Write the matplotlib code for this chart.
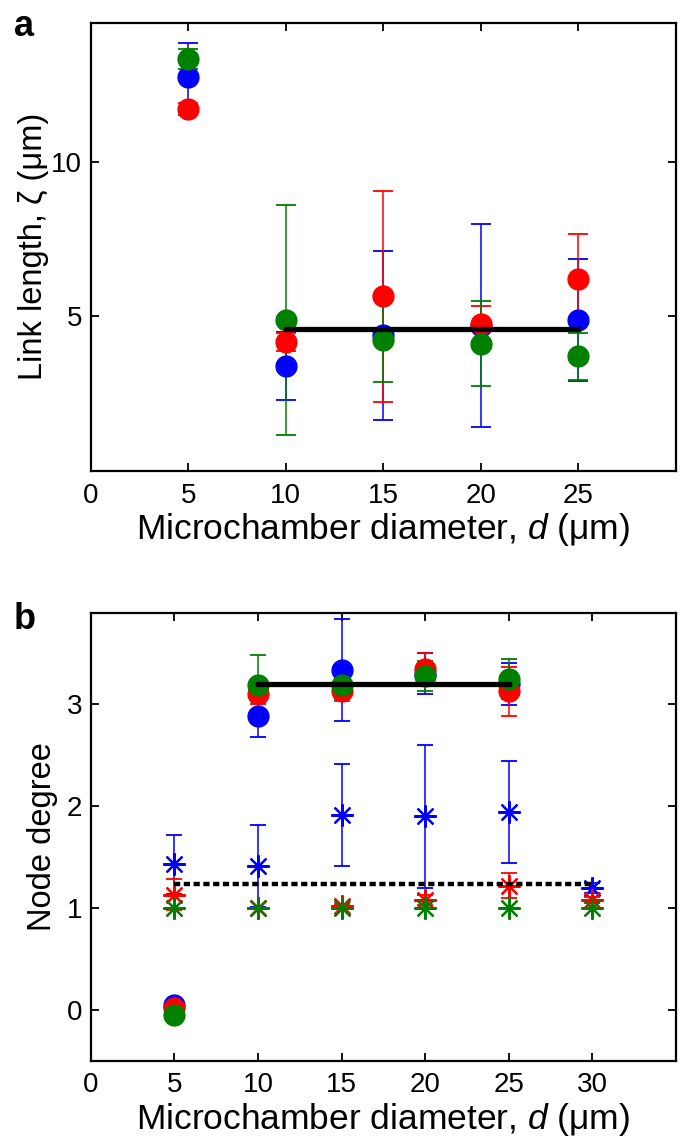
import numpy as np
import matplotlib
matplotlib.use("Agg")
import matplotlib.pyplot as plt

plt.rcParams['font.family'] = ['Liberation Sans', 'DejaVu Sans']
plt.rcParams['mathtext.fontset'] = 'custom'
plt.rcParams['mathtext.rm'] = 'Liberation Sans'
plt.rcParams['mathtext.it'] = 'Liberation Sans:italic'

# ---------------- Panel a: link length ----------------
d_a = [5, 10, 15, 20, 25]
link_blue = [12.73, 3.39, 4.38, 4.70, 4.87]
link_blue_err = [1.10, 1.09, 2.74, 3.30, 1.98]
link_red = [11.70, 4.17, 5.65, 4.76, 6.22]
link_red_err = [0.20, 0.30, 3.41, 0.57, 1.45]
link_green = [13.32, 4.87, 4.22, 4.11, 3.70]
link_green_err = [0.32, 3.72, 1.35, 1.38, 0.77]

# ---------------- Panel b: node degree ----------------
d_b = [5, 10, 15, 20, 25]
deg_blue = [0.05, 2.89, 3.34, 3.30, 3.20]
deg_blue_err = [0.0, 0.21, 0.50, 0.20, 0.21]
deg_red = [0.02, 3.10, 3.13, 3.35, 3.13]
deg_red_err = [0.0, 0.10, 0.08, 0.15, 0.24]
deg_green = [-0.05, 3.19, 3.19, 3.28, 3.25]
deg_green_err = [0.0, 0.29, 0.16, 0.15, 0.20]

d_star = [5, 10, 15, 20, 25, 30]
star_blue = [1.43, 1.41, 1.91, 1.90, 1.94, 1.20]
star_blue_err = [0.29, 0.40, 0.50, 0.70, 0.50, 0.05]
star_red = [1.13, 1.00, 1.02, 1.08, 1.22, 1.08]
star_red_err = [0.15, 0.0, 0.02, 0.05, 0.12, 0.03]
star_green = [1.0, 1.0, 1.0, 1.0, 1.0, 1.0]
star_green_err = [0.0, 0.0, 0.0, 0.0, 0.0, 0.0]

xticks_a = [0, 5, 10, 15, 20, 25]
xticks_b = [0, 5, 10, 15, 20, 25, 30]
yticks_a = [5, 10]
yticks_b = [0, 1, 2, 3]

BLUE = (0, 0, 1)
RED = (1, 0, 0)
GREEN = (0, 0.5, 0)

fig = plt.figure(figsize=(6.88, 11.42), dpi=100)
ax1 = fig.add_axes([0.1318, 0.5878, 0.8507, 0.3923])
ax2 = fig.add_axes([0.1318, 0.0712, 0.8507, 0.3923])

TICK_FS = 20
XLAB_FS = 25.5
YLAB_FS = 23.5

def style(ax):
    for s in ax.spines.values():
        s.set_linewidth(1.6)
    ax.tick_params(direction='in', length=6, width=1.3, top=True, right=True,
                   labelsize=TICK_FS)
    ax.tick_params(axis='x', pad=8.5)
    ax.tick_params(axis='y', pad=6)

# panel a
for y, e, c in [(link_blue, link_blue_err, BLUE), (link_red, link_red_err, RED),
                (link_green, link_green_err, GREEN)]:
    ax1.errorbar(d_a, y, yerr=e, fmt='o', color=c, ms=15, mec=c, mfc=c,
                 elinewidth=1.1, capsize=7.5, capthick=1.3)
xa = np.array(d_a)
mask = xa >= 10
mean_a = np.mean(np.concatenate([np.array(link_blue)[mask], np.array(link_red)[mask],
                                 np.array(link_green)[mask]]))
ax1.plot([xa[mask].min(), xa[mask].max()], [mean_a, mean_a], color='k', lw=3.8, zorder=5)
ax1.set_xlim(0, 30)
ax1.set_ylim(0, 14.5)
ax1.set_xticks(xticks_a)
ax1.set_yticks(yticks_a)
style(ax1)
ax1.set_xlabel(r'Microchamber diameter, $d$ (μm)', fontsize=XLAB_FS, labelpad=1.5)
ax1.set_ylabel('Link length, ζ (μm)', fontsize=YLAB_FS)
ax1.yaxis.set_label_coords(-0.072, 0.5)

# panel b
for y, e, c in [(deg_blue, deg_blue_err, BLUE), (deg_red, deg_red_err, RED),
                (deg_green, deg_green_err, GREEN)]:
    ax2.errorbar(d_b, y, yerr=e, fmt='o', color=c, ms=15, mec=c, mfc=c,
                 elinewidth=1.1, capsize=5.5, capthick=1.3)
for y, e, c in [(star_blue, star_blue_err, BLUE), (star_red, star_red_err, RED),
                (star_green, star_green_err, GREEN)]:
    ax2.errorbar(d_star, y, yerr=e, fmt='none', ecolor=c,
                 elinewidth=1.1, capsize=5.5, capthick=1.3)
    ax2.plot(d_star, y, linestyle='none', marker=(8, 2, 0), color=c, ms=16,
             mec=c, mew=1.6)
xb = np.array(d_b)
mb = xb >= 10
mean_b = np.mean(np.concatenate([np.array(deg_blue)[mb], np.array(deg_red)[mb],
                                 np.array(deg_green)[mb]]))
ax2.plot([xb[mb].min(), xb[mb].max()], [mean_b, mean_b], color='k', lw=3.8, zorder=5)
mean_s = np.mean(np.concatenate([star_blue, star_red, star_green]))
ax2.plot([min(d_star), max(d_star)], [mean_s, mean_s], color='k', lw=3.2,
         linestyle=(0, (1.4, 0.8)), zorder=5)
ax2.set_xlim(0, 35)
ax2.set_ylim(-0.5, 3.9)
ax2.set_xticks(xticks_b)
ax2.set_yticks(yticks_b)
style(ax2)
ax2.set_xlabel(r'Microchamber diameter, $d$ (μm)', fontsize=XLAB_FS, labelpad=1.5)
ax2.set_ylabel('Node degree', fontsize=YLAB_FS)
ax2.yaxis.set_label_coords(-0.056, 0.5)

fig.text(0.02, 0.992, 'a', fontsize=26, fontweight='bold', va='top', ha='left')
fig.text(0.02, 0.473, 'b', fontsize=26, fontweight='bold', va='top', ha='left')

fig.savefig('out.png', dpi=100)
